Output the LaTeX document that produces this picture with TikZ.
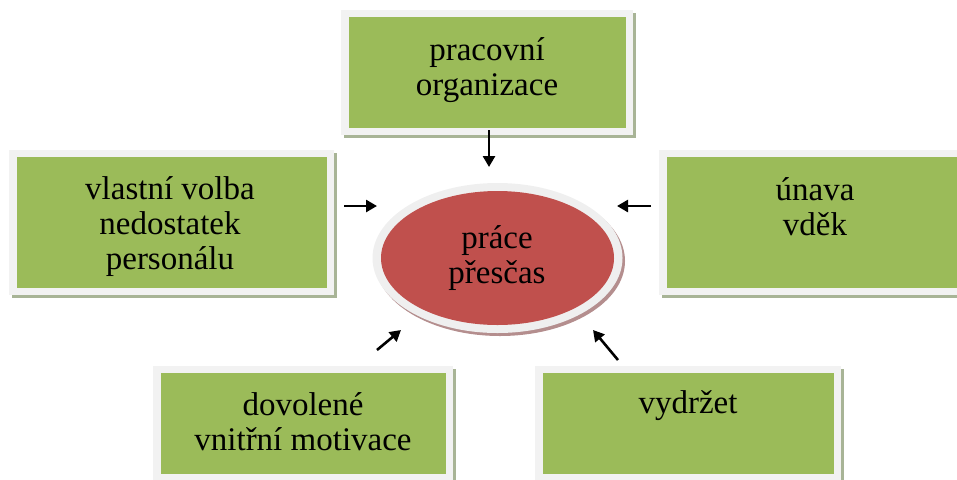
\documentclass[tikz,border=0pt]{standalone}
\usepackage{fontspec}
\setmainfont{Liberation Serif}
\usetikzlibrary{arrows.meta,shapes.geometric}
\definecolor{leaf}{HTML}{9BBB59}
\definecolor{rim}{HTML}{F2F2F2}
\definecolor{boxshade}{HTML}{A8B496}
\definecolor{brick}{HTML}{C0504D}
\definecolor{ovalrim}{HTML}{EFEFEF}
\definecolor{ovalshade}{HTML}{B48E8E}
% \greenpanel{name}{centre}{width}{height}: shadow, light frame and green face
\newcommand\greenpanel[4]{%
  \node[panelshade,minimum width=#3,minimum height=#4,xshift=3pt,yshift=-3pt] at (#2) {};
  \node[panelframe,minimum width=#3,minimum height=#4] (#1-frame) at (#2) {};
  \node[panelface,minimum width=#3-15,minimum height=#4-14] (#1) at (#2) {};
}
\begin{document}
\begin{tikzpicture}[x=1pt,y=-1pt,
  panelshade/.style={fill=boxshade,inner sep=0pt,outer sep=0pt},
  panelframe/.style={fill=rim,inner sep=0pt,outer sep=0pt},
  panelface/.style={fill=leaf,inner sep=0pt,outer sep=0pt},
  lbl/.style={align=center,font=\fontsize{33}{35}\selectfont,anchor=base,inner sep=0pt},
  push/.style={-{Triangle[length=11pt,width=12pt]},line width=2.6pt,black},
]
\useasboundingbox (0,0) rectangle (957,479);
\begin{scope}
\clip (0,0) rectangle (957,479);

% panels
\greenpanel{org}{487,72.5}{292}{125}
\greenpanel{own}{171.5,222.5}{325}{145}
\greenpanel{tired}{812,222.5}{306}{145}
\greenpanel{leave}{303,423.5}{300}{115}
\greenpanel{endure}{688,423.5}{306}{115}

% central oval
\node[ellipse,fill=ovalshade,minimum width=250,minimum height=150,inner sep=0pt,xshift=2.5pt,yshift=-3pt] at (497.5,258) {};
\node[ellipse,fill=ovalrim,minimum width=250,minimum height=150,inner sep=0pt] (ovalrim) at (497.5,258) {};
\node[ellipse,fill=brick,minimum width=233,minimum height=134,inner sep=0pt] (oval) at (497.5,258) {};

% labels (anchored on the baseline of the last line)
\node[lbl] (org-t) at (487,95) {pracovní\\organizace};
\node[lbl] (own-t) at (170,269) {vlastní volba\\nedostatek\\personálu};
\node[lbl] (tired-t) at (815,235) {únava\\vděk};
\node[lbl] (leave-t) at (303,450) {dovolené\\vnitřní motivace};
\node[lbl] (endure-t) at (688,413) {vydržet};
\node[lbl] (oval-t) at (497,283) {práce\\přesčas};

% arrow ends
\coordinate (a1s) at (489,130); \coordinate (a1e) at (489,167);
\coordinate (a2s) at (344,206); \coordinate (a2e) at (377,206);
\coordinate (a3s) at (651,206); \coordinate (a3e) at (617,206);
\coordinate (a4s) at (377,350); \coordinate (a4e) at (401,330);
\coordinate (a5s) at (618,360); \coordinate (a5e) at (593,330);
\draw[push] (a1s) -- (a1e);
\draw[push] (a2s) -- (a2e);
\draw[push] (a3s) -- (a3e);
\draw[push] (a4s) -- (a4e);
\draw[push] (a5s) -- (a5e);
\end{scope}
\end{tikzpicture}
\end{document}
